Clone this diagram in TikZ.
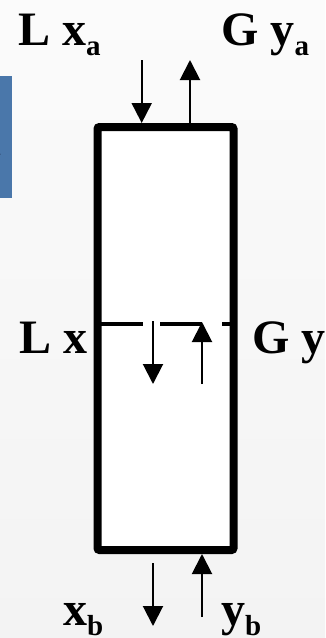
\documentclass[tikz,border=0pt]{standalone}
\usepackage{fontspec}
\setmainfont{Liberation Serif}
\usetikzlibrary{arrows.meta}
\definecolor{bgtop}{HTML}{FBFBFB}
\definecolor{bgbot}{HTML}{F3F3F3}
\definecolor{sideblue}{HTML}{4A77AA}
\definecolor{glyph}{HTML}{1E2A44}
\newcommand\subtxt[1]{\raisebox{-0.21em}{\fontsize{29}{29}\selectfont #1}}
\tikzset{
  lbl/.style={anchor=base west, inner sep=0pt, font=\fontsize{48}{48}\selectfont\bfseries},
  flow/.style={line width=2pt, -{Triangle[length=20pt,width=20pt]}},
  wall/.style={line width=8pt, rounded corners=2pt},
  tray/.style={line width=4.5pt},
}
\begin{document}
\begin{tikzpicture}[x=1pt,y=-1pt]
\useasboundingbox (0,0) rectangle (325,638);
\shade[top color=bgtop,bottom color=bgbot] (0,0) rectangle (325,638);
% clipped side element
\begin{scope}
\clip (0,76) rectangle (12,198);
\fill[sideblue] (0,76) rectangle (12,198);
\node[anchor=base west, inner sep=0pt, text=glyph, font=\fontsize{20}{20}\selectfont\itshape] (sideglyph) at (-7,163) {z};
\end{scope}
% column
\draw[wall, fill=white] (97.5,127) rectangle (233.5,550);
\coordinate (topL) at (141.7,123);
\coordinate (topR) at (190,123);
\coordinate (inL) at (141.7,60);
\coordinate (outR) at (190,60);
\coordinate (midLa) at (153,321);
\coordinate (midLb) at (153,384);
\coordinate (midRa) at (202,384);
\coordinate (midRb) at (202,322);
\coordinate (botLa) at (153,563);
\coordinate (botLb) at (153,626);
\coordinate (botRa) at (202,617);
\coordinate (botRb) at (202,554);
% tray (dashed line)
\coordinate (t1) at (101,324); \coordinate (t2) at (143,324);
\coordinate (t3) at (160,324); \coordinate (t4) at (202,324);
\coordinate (t5) at (222,324); \coordinate (t6) at (230,324);
\draw[tray] (t1) -- (t2);
\draw[tray] (t3) -- (t4);
\draw[tray] (t5) -- (t6);
% arrows
\draw[flow] (inL) -- (topL);
\draw[flow] (topR) -- (outR);
\draw[flow] (midLa) -- (midLb);
\draw[flow] (midRa) -- (midRb);
\draw[flow] (botLa) -- (botLb);
\draw[flow] (botRa) -- (botRb);
% labels
\node[lbl] (Lxa) at (18,45) {L x\subtxt{a}};
\node[lbl] (Gya) at (221,45) {G y\subtxt{a}};
\node[lbl] (Lx) at (19,353) {L x};
\node[lbl] (Gy) at (252,353) {G y};
\node[lbl] (xb) at (63,625) {x\subtxt{b}};
\node[lbl] (yb) at (221,625) {y\subtxt{b}};
\end{tikzpicture}
\end{document}
